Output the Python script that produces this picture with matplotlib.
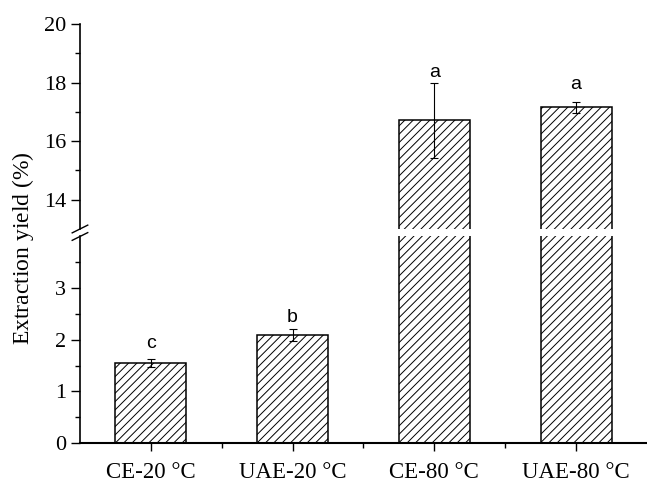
import matplotlib.pyplot as plt
import numpy as np

categories = ['CE-20 °C', 'UAE-20 °C', 'CE-80 °C', 'UAE-80 °C']
yields = [1.55, 2.09, 16.71, 17.16]
errors = [0.07, 0.12, 1.28, 0.19]
letters = ['c', 'b', 'a', 'a']
letter_y = [1.84, 2.35, 18.19, 17.78]

plt.rcParams['font.family'] = 'Liberation Serif'
plt.rcParams['hatch.linewidth'] = 0.7
plt.rcParams['mathtext.fontset'] = 'custom'
plt.rcParams['mathtext.rm'] = 'Liberation Serif'
plt.rcParams['mathtext.it'] = 'Liberation Serif:italic'

fig = plt.figure(figsize=(6.47, 4.83), dpi=100)
ax_lo = fig.add_axes([0.1236, 0.0828, 0.8764, 0.4276])
ax_hi = fig.add_axes([0.1236, 0.5259, 0.8764, 0.4244])

x = np.arange(len(categories))
for ax in (ax_lo, ax_hi):
    ax.bar(x, yields, width=0.5, color='white', edgecolor='black', hatch='////',
           linewidth=1.1, yerr=errors, capsize=3,
           error_kw=dict(elinewidth=0.8, capthick=0.8, ecolor='black'))
    ax.set_xlim(-0.5, 3.5)
    ax.spines[['top', 'right']].set_visible(False)
    ax.spines['left'].set_linewidth(1.2)
    ax.tick_params(axis='y', which='major', length=6.5, width=1, labelsize=16, direction='out')
    ax.tick_params(axis='y', which='minor', length=3.5, width=1, direction='out')

# lower panel
ax_lo.set_ylim(0, 4)
ax_lo.set_yticks([0, 1, 2, 3])
ax_lo.set_yticks([0.5, 1.5, 2.5, 3.5], minor=True)
ax_lo.set_xticks(x)
ax_lo.set_xticklabels(categories)
ax_lo.set_xticks([0.5, 1.5, 2.5], minor=True)
ax_lo.spines['bottom'].set_linewidth(1.5)
ax_lo.tick_params(axis='x', which='major', length=6, width=1, labelsize=16.5, pad=8)
ax_lo.tick_params(axis='x', which='minor', length=3.5, width=1)

# upper panel
ax_hi.set_ylim(13, 20)
ax_hi.set_yticks([14, 16, 18, 20])
ax_hi.set_yticks([15, 17, 19], minor=True)
ax_hi.spines['bottom'].set_visible(False)
ax_hi.tick_params(axis='x', which='both', bottom=False, labelbottom=False)

for i, (lab, ly) in enumerate(zip(letters, letter_y)):
    ax = ax_lo if ly < 4 else ax_hi
    ax.text(x[i], ly, lab, ha='center', va='baseline', fontsize=14,
            family='Liberation Sans')

# axis break marks on the left spine
lo_top = ax_lo.get_position().y1
hi_bot = ax_hi.get_position().y0
x0 = ax_lo.get_position().x0
dx, dy = 0.012, 0.008
for yb in (lo_top, hi_bot):
    fig.add_artist(plt.Line2D([x0 - dx, x0 + dx], [yb - dy, yb + dy],
                              color='black', lw=1.0, transform=fig.transFigure))

fig.text(0.035, 0.487, 'Extraction yield $\\it{(\\%)}$', rotation=90,
         ha='center', va='center', fontsize=17)

fig.savefig('out.png', dpi=100)
